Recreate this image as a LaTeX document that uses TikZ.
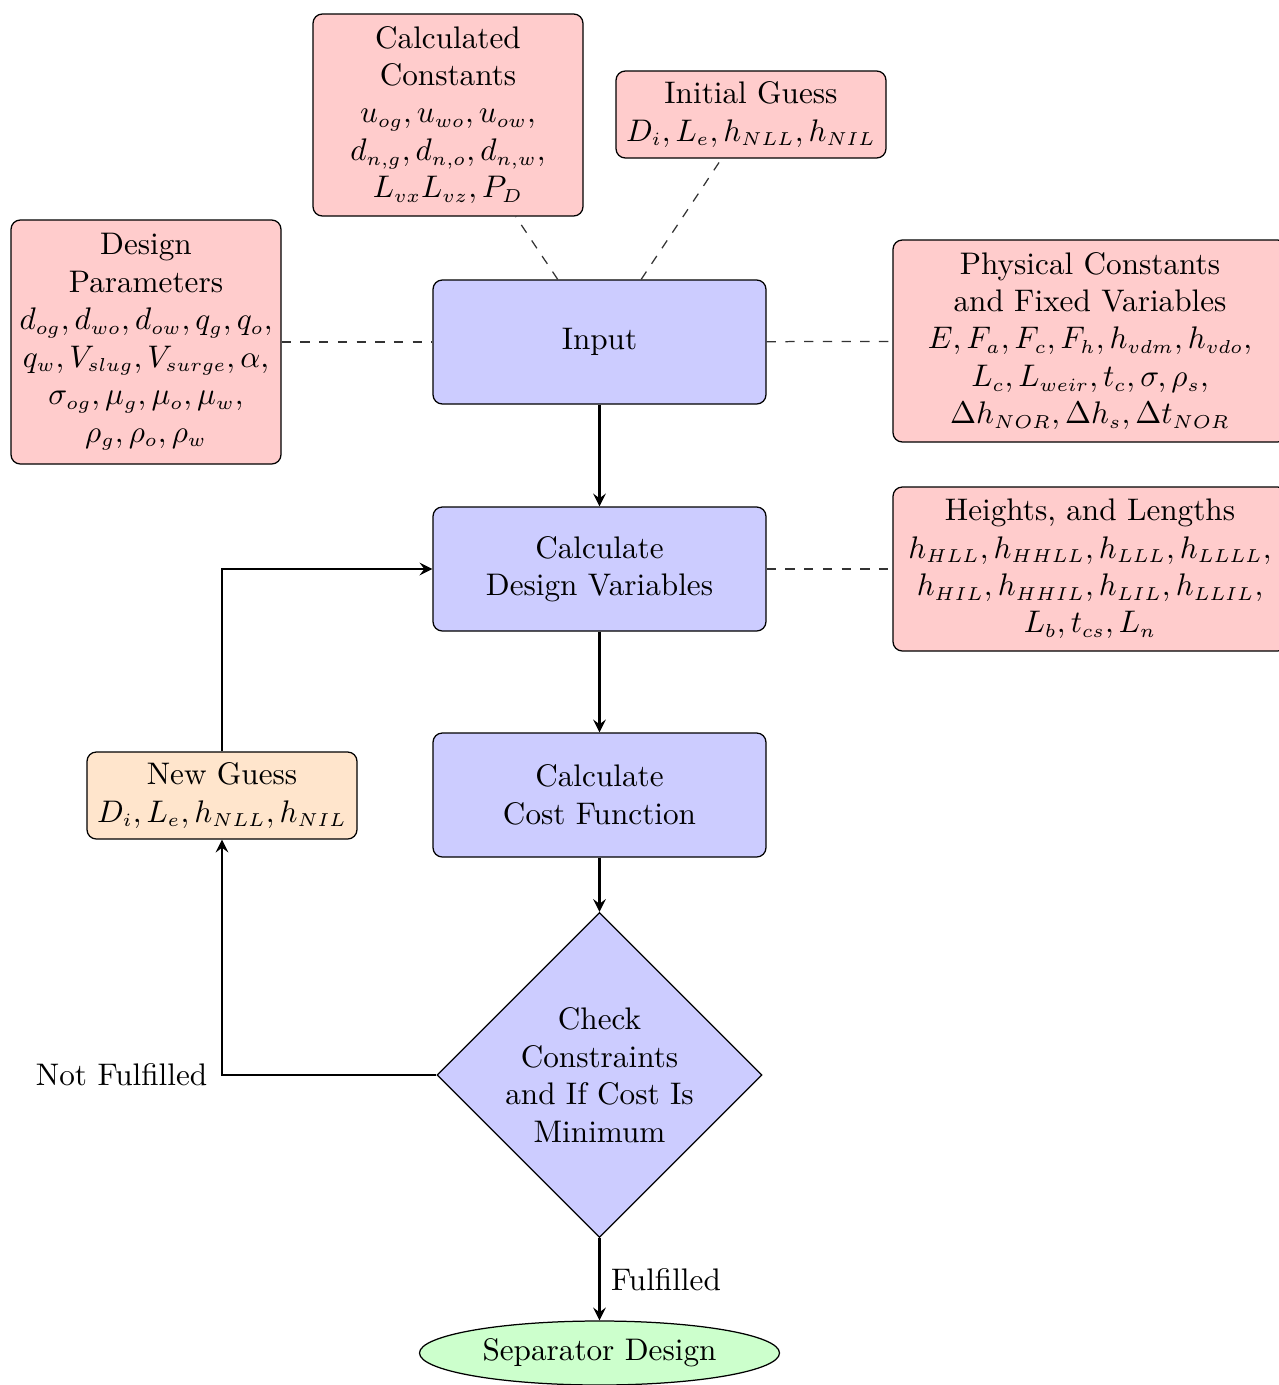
\documentclass[tikz,border=0pt]{standalone}
\DeclareMathSizes{10}{10}{6}{5}
\usetikzlibrary{shapes.geometric,arrows.meta,calc}
\def\PXU{0.3205pt}
\begin{document}
\begin{tikzpicture}[x=0.3205pt,y=-0.3205pt,
  proc/.style={rectangle, rounded corners=3pt, draw, fill=blue!20, align=center,
    minimum width=333*\PXU, minimum height=124*\PXU, inner sep=1pt},
  info/.style={rectangle, rounded corners=3pt, draw, fill=red!20, align=center, inner sep=1.5pt},
  guess/.style={rectangle, rounded corners=3pt, draw, fill=orange!20, align=center, inner sep=1.5pt},
  decision/.style={diamond, draw, fill=blue!20, align=center, aspect=1,
    minimum width=325*\PXU, minimum height=325*\PXU, inner sep=0pt},
  finish/.style={ellipse, draw, fill=green!20, minimum width=360*\PXU, minimum height=64*\PXU, inner sep=0pt},
  flow/.style={-stealth, thick},
  link/.style={dashed, black!80}]
\useasboundingbox (0,0) rectangle (1279,1385);
\clip (0,0) rectangle (1279,1385);

\node[proc] (input) at (599.5,342) {Input};
\node[proc] (calc) at (599.5,569) {Calculate\\Design Variables};
\node[proc] (cost) at (599.5,795) {Calculate\\Cost Function};
\node[decision] (check) at (599.5,1075) {Check\\Constraints\\and If Cost Is\\Minimum};
\node[finish] (sep) at (599.5,1353) {Separator Design};

\node[info, minimum width=270*\PXU, minimum height=202*\PXU] (cc) at (448,115)
  {Calculated\\Constants\\$u_{og}, u_{wo}, u_{ow},$\\$d_{n,g}, d_{n,o}, d_{n,w},$\\$L_{vx}L_{vz}, P_D$};
\node[info, minimum width=270*\PXU, minimum height=87*\PXU] (ig) at (751,114.5)
  {Initial Guess\\$D_i, L_e, h_{NLL}, h_{NIL}$};
\node[info, minimum width=270*\PXU, minimum height=244*\PXU] (dp) at (146,342)
  {Design\\Parameters\\$d_{og}, d_{wo}, d_{ow}, q_g, q_o,$\\$q_w, V_{slug}, V_{surge}, \alpha,$\\$\sigma_{og}, \mu_g, \mu_o, \mu_w,$\\$\rho_g, \rho_o, \rho_w$};
\node[info, minimum width=394*\PXU, minimum height=202*\PXU] (phys) at (1090,341)
  {Physical Constants\\and Fixed Variables\\$E, F_a, F_c, F_h, h_{vdm}, h_{vdo},$\\$L_c, L_{weir}, t_c, \sigma, \rho_s,$\\$\Delta h_{NOR}, \Delta h_s, \Delta t_{NOR}$};
\node[info, minimum width=394*\PXU, minimum height=164*\PXU] (hl) at (1090,569)
  {Heights, and Lengths\\$h_{HLL}, h_{HHLL}, h_{LLL}, h_{LLLL},$\\$h_{HIL}, h_{HHIL}, h_{LIL}, h_{LLIL},$\\$L_b, t_{cs}, L_n$};
\node[guess, minimum width=270*\PXU, minimum height=87*\PXU] (ng) at (222,795.5)
  {New Guess\\$D_i, L_e, h_{NLL}, h_{NIL}$};

\draw[link] (input) -- (cc);
\draw[link] (input) -- (ig);
\draw[link] (dp) -- (input);
\draw[link] (input) -- (phys);
\draw[link] (calc) -- (hl);

\draw[flow] (input) -- (calc);
\draw[flow] (calc) -- (cost);
\draw[flow] (cost) -- (check);
\draw[flow] (check) -- node[right] {Fulfilled} (sep);
\draw[flow] (check.west) -| node[pos=0.5, left, xshift=-1pt] {Not Fulfilled} (ng.south);
\draw[flow] (ng.north) |- (calc.west);
\end{tikzpicture}
\end{document}
